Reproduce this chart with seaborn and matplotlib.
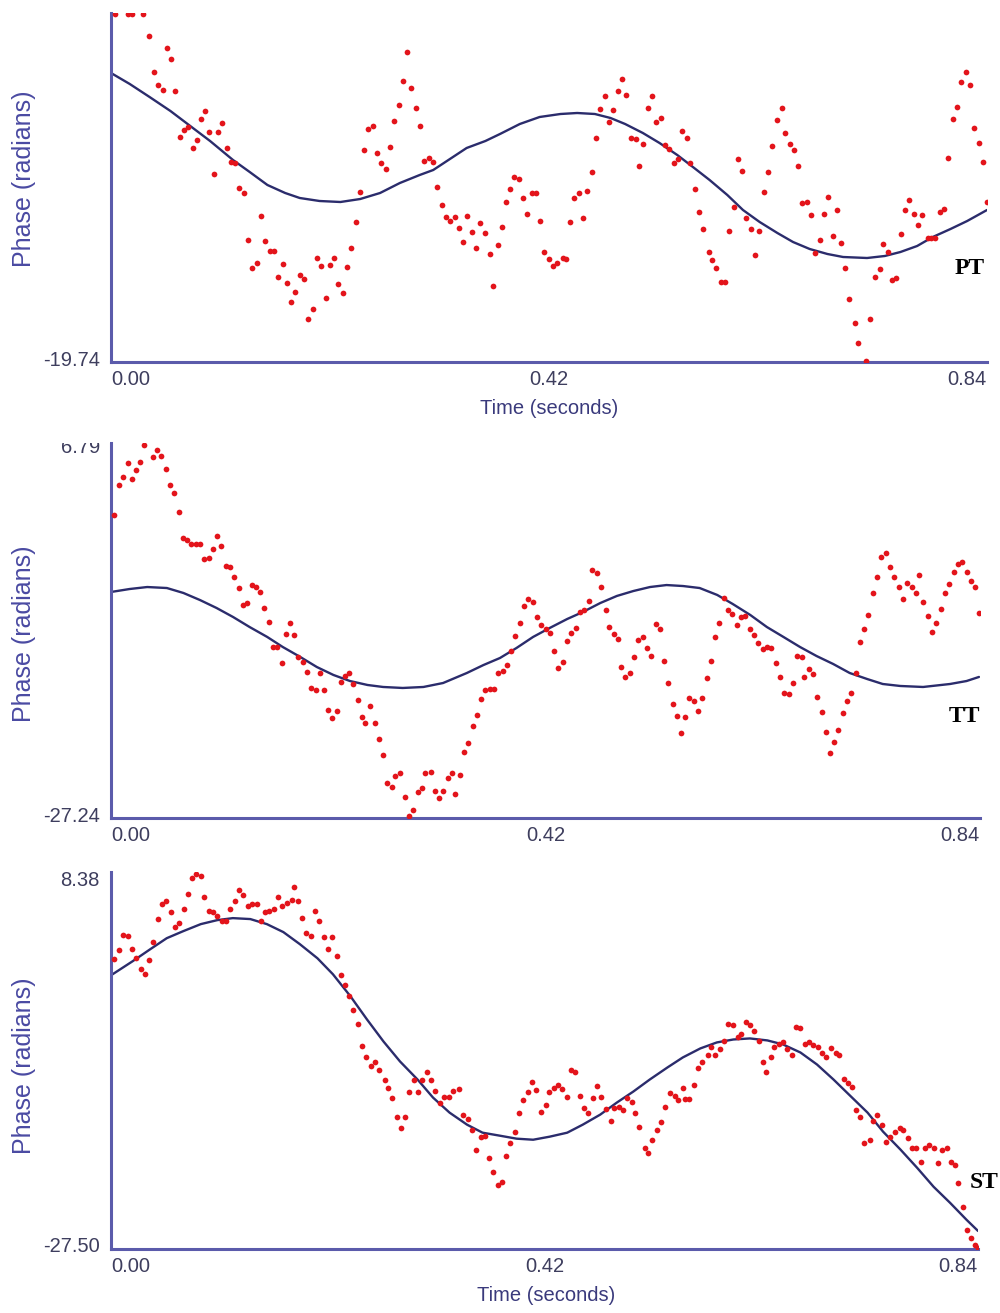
import matplotlib
matplotlib.use("Agg")
import matplotlib.pyplot as plt
import seaborn as sns
import pandas as pd
from matplotlib.transforms import ScaledTranslation
from matplotlib.patches import Rectangle

# ---------------- data ----------------
x_ticks = [0.0, 0.42, 0.84]
x_tick_labels = ["0.00", "0.42", "0.84"]

# Panel PT
pt_ylim = (-19.74, 11.67)
pt_t = [0.004,0.016,0.020,0.031,0.036,0.041,0.045,0.050,0.054,0.058,
        0.061,0.066,0.070,0.074,0.079,0.082,0.086,0.090,0.094,0.099,
        0.103,0.106,0.111,0.115,0.119,0.123,0.128,0.131,0.135,0.140,
        0.144,0.148,0.152,0.156,0.160,0.165,0.169,0.173,0.176,0.181,
        0.185,0.189,0.194,0.198,0.201,0.206,0.210,0.214,0.218,0.222,
        0.226,0.230,0.235,0.239,0.243,0.246,0.251,0.255,0.259,0.264,
        0.268,0.271,0.276,0.280,0.284,0.288,0.292,0.296,0.300,0.305,
        0.309,0.313,0.317,0.321,0.325,0.330,0.334,0.338,0.341,0.346,
        0.350,0.354,0.359,0.363,0.366,0.371,0.375,0.379,0.383,0.386,
        0.391,0.395,0.399,0.404,0.408,0.411,0.415,0.420,0.424,0.428,
        0.433,0.436,0.440,0.444,0.449,0.453,0.456,0.461,0.465,0.469,
        0.474,0.478,0.481,0.486,0.490,0.494,0.499,0.503,0.506,0.510,
        0.515,0.519,0.523,0.527,0.531,0.535,0.540,0.544,0.548,0.552,
        0.555,0.560,0.564,0.568,0.573,0.576,0.580,0.585,0.589,0.593,
        0.597,0.601,0.605,0.609,0.614,0.618,0.621,0.626,0.630,0.634,
        0.639,0.643,0.646,0.651,0.655,0.659,0.663,0.667,0.671,0.675,
        0.680,0.684,0.688,0.692,0.696,0.700,0.704,0.708,0.713,0.716,
        0.724,0.728,0.733,0.737,0.740,0.745,0.749,0.753,0.758,0.761,
        0.765,0.770,0.774,0.778,0.783,0.786,0.790,0.795,0.799,0.803,
        0.807,0.811,0.815,0.820,0.824,0.828,0.832,0.836,0.840]
pt_phase = [11.6,11.6,11.6,11.6,9.60,6.36,5.19,4.74,8.52,7.53,
            4.65,0.51,1.14,1.41,-0.48,0.24,2.13,2.85,0.96,-2.82,
            0.96,1.77,-0.48,-1.74,-1.83,-4.08,-4.53,-8.76,-11.28,-10.83,
            -6.60,-8.85,-9.75,-9.75,-12.09,-10.92,-12.63,-14.34,-13.44,-11.91,
            -12.27,-15.87,-14.97,-10.38,-11.10,-13.98,-11.01,-10.38,-12.72,-13.53,
            -11.19,-9.48,-7.14,-4.44,-0.66,1.23,1.50,-0.93,-1.83,-2.37,
            -0.39,1.95,3.39,5.55,8.16,4.92,3.12,1.50,-1.65,-1.38,
            -1.74,-3.99,-5.61,-6.69,-7.05,-6.69,-7.68,-8.94,-6.60,-8.04,
            -9.48,-7.23,-8.13,-10.02,-12.90,-9.21,-7.59,-5.34,-4.17,-3.09,
            -3.27,-4.98,-6.42,-4.53,-4.53,-7.05,-9.84,-10.47,-11.10,-10.83,
            -10.38,-10.47,-7.14,-4.98,-4.53,-6.78,-4.35,-2.64,0.42,3.03,
            4.20,1.86,2.94,4.65,5.73,4.29,0.42,0.33,-2.10,-0.12,
            3.12,4.20,1.86,2.22,-0.21,-0.57,-1.83,-1.47,1.05,0.42,
            -1.83,-4.17,-6.24,-7.77,-9.84,-10.56,-11.28,-12.54,-12.54,-7.95,
            -5.79,-1.47,-2.55,-6.78,-7.77,-10.11,-7.95,-4.44,-2.64,-0.30,
            2.04,3.12,0.87,-0.12,-0.66,-2.10,-5.43,-5.34,-6.51,-9.93,
            -8.76,-6.42,-4.89,-8.40,-6.06,-9.03,-11.28,-14.07,-16.23,-18.03,
            -19.65,-15.87,-12.09,-11.37,-9.12,-9.84,-12.36,-12.18,-8.22,-6.06,
            -5.16,-6.42,-7.41,-6.51,-8.58,-8.58,-8.58,-6.24,-5.97,-1.38,
            2.13,3.21,5.46,6.36,5.19,1.32,-0.03,-1.74,-5.34]
pt_fit_t = [0.000,0.018,0.037,0.057,0.076,0.095,0.117,0.133,0.150,0.167,
            0.181,0.200,0.220,0.239,0.258,0.277,0.296,0.309,0.325,0.341,
            0.359,0.373,0.392,0.411,0.431,0.447,0.464,0.479,0.493,0.510,
            0.526,0.543,0.558,0.574,0.591,0.606,0.622,0.639,0.654,0.670,
            0.687,0.702,0.725,0.742,0.757,0.773,0.788,0.805,0.821,0.840]
pt_fit = [6.27,5.28,4.11,2.85,1.50,0.15,-1.56,-2.64,-3.81,-4.53,
          -4.98,-5.25,-5.34,-5.07,-4.53,-3.63,-2.91,-2.46,-1.47,-0.48,
          0.15,0.78,1.68,2.31,2.58,2.67,2.58,2.22,1.68,0.87,
          -0.03,-1.11,-2.19,-3.36,-4.71,-6.06,-7.14,-8.13,-8.94,-9.57,
          -10.02,-10.29,-10.38,-10.20,-9.84,-9.30,-8.49,-7.77,-7.05,-6.06]

# Panel TT
tt_ylim = (-27.24, 6.79)
tt_t = [0.003,0.008,0.012,0.016,0.020,0.024,0.028,0.032,0.041,0.044,
        0.048,0.053,0.057,0.061,0.066,0.070,0.073,0.077,0.082,0.086,
        0.090,0.095,0.099,0.102,0.106,0.111,0.115,0.119,0.124,0.128,
        0.131,0.136,0.140,0.144,0.148,0.153,0.157,0.160,0.165,0.169,
        0.173,0.177,0.181,0.186,0.189,0.193,0.198,0.202,0.206,0.210,
        0.214,0.218,0.222,0.226,0.230,0.234,0.239,0.243,0.246,0.250,
        0.255,0.259,0.263,0.267,0.272,0.275,0.279,0.284,0.288,0.292,
        0.297,0.301,0.304,0.309,0.313,0.317,0.321,0.326,0.330,0.333,
        0.337,0.341,0.345,0.350,0.354,0.358,0.362,0.366,0.370,0.374,
        0.379,0.383,0.387,0.391,0.395,0.399,0.403,0.408,0.412,0.416,
        0.420,0.424,0.428,0.432,0.437,0.441,0.445,0.449,0.453,0.457,
        0.462,0.465,0.470,0.474,0.478,0.481,0.486,0.490,0.493,0.497,
        0.502,0.506,0.509,0.514,0.518,0.522,0.527,0.531,0.535,0.538,
        0.543,0.547,0.551,0.555,0.559,0.564,0.567,0.571,0.576,0.580,
        0.584,0.588,0.593,0.596,0.600,0.605,0.609,0.613,0.618,0.622,
        0.625,0.630,0.634,0.638,0.643,0.647,0.651,0.655,0.659,0.663,
        0.668,0.670,0.675,0.679,0.682,0.687,0.691,0.695,0.699,0.703,
        0.708,0.711,0.715,0.720,0.724,0.728,0.732,0.737,0.740,0.744,
        0.749,0.753,0.757,0.762,0.766,0.769,0.774,0.778,0.781,0.785,
        0.790,0.794,0.797,0.802,0.806,0.810,0.815,0.819,0.823,0.827,
        0.831,0.835,0.839]
tt_phase = [0.26,2.98,3.71,4.98,3.52,4.34,5.07,6.61,5.52,6.16,
            5.61,4.43,2.98,2.25,0.53,-1.83,-2.01,-2.37,-2.37,-2.37,
            -3.74,-3.64,-2.83,-1.65,-2.56,-4.37,-4.46,-5.37,-6.37,-7.91,
            -7.73,-6.10,-6.28,-6.73,-8.18,-9.45,-11.72,-11.72,-13.17,-10.54,
            -9.54,-10.63,-12.63,-13.08,-13.99,-15.44,-15.62,-14.08,-15.62,-17.44,
            -18.16,-17.53,-14.90,-14.35,-14.08,-15.08,-16.53,-18.07,-18.62,-17.08,
            -18.62,-20.07,-21.52,-24.06,-24.43,-23.43,-23.16,-25.33,-27.10,-26.51,
            -24.88,-24.52,-23.16,-23.07,-24.79,-25.42,-24.79,-23.61,-23.16,-25.06,
            -23.34,-21.25,-20.43,-18.89,-17.89,-16.44,-15.62,-15.53,-15.53,-14.08,
            -13.90,-13.36,-12.08,-10.72,-9.54,-8.00,-7.37,-7.64,-9.00,-9.73,
            -10.09,-10.45,-12.08,-13.63,-13.08,-11.18,-10.45,-10.00,-8.55,-8.36,
            -7.55,-4.73,-5.01,-6.28,-8.36,-9.91,-10.54,-11.00,-13.54,-14.44,
            -14.08,-12.63,-11.09,-10.81,-11.81,-12.54,-9.63,-10.09,-12.99,-14.99,
            -16.89,-17.98,-19.53,-18.07,-16.35,-16.62,-17.53,-16.35,-14.53,-12.99,
            -10.81,-9.54,-7.27,-8.36,-8.73,-9.73,-9.00,-8.91,-10.09,-10.63,
            -11.36,-11.90,-11.72,-11.81,-13.17,-14.44,-15.90,-15.99,-14.99,-12.54,
            -12.63,-14.44,-13.72,-14.17,-16.26,-17.62,-19.44,-21.34,-20.34,-19.25,
            -17.71,-16.62,-15.90,-14.08,-11.27,-10.09,-8.82,-6.82,-5.37,-3.55,
            -3.19,-4.46,-5.37,-6.28,-7.37,-5.91,-6.28,-6.82,-5.19,-7.64,
            -8.91,-10.36,-9.54,-8.27,-6.82,-6.00,-4.92,-4.19,-4.01,-4.92,
            -5.73,-6.28,-8.64]
tt_fit_t = [0.000,0.018,0.035,0.054,0.070,0.086,0.102,0.118,0.134,0.151,
            0.166,0.183,0.199,0.215,0.231,0.248,0.263,0.282,0.302,0.321,
            0.344,0.360,0.376,0.392,0.408,0.424,0.441,0.456,0.473,0.489,
            0.505,0.521,0.537,0.553,0.569,0.586,0.601,0.618,0.634,0.650,
            0.666,0.682,0.698,0.714,0.731,0.746,0.763,0.785,0.811,0.827,0.839]
tt_fit = [-6.73,-6.46,-6.28,-6.37,-6.82,-7.46,-8.18,-9.00,-9.91,-10.81,
          -11.72,-12.63,-13.54,-14.26,-14.81,-15.17,-15.35,-15.44,-15.35,-14.99,
          -14.08,-13.36,-12.72,-11.81,-10.81,-10.00,-9.18,-8.55,-7.73,-7.09,
          -6.64,-6.28,-6.10,-6.19,-6.37,-7.00,-7.82,-8.82,-9.91,-10.81,
          -11.72,-12.54,-13.26,-14.08,-14.63,-15.08,-15.26,-15.35,-15.08,-14.81,-14.44]

# Panel ST
st_ylim = (-27.50, 8.38)
st_t = [0.003,0.008,0.012,0.016,0.020,0.024,0.029,0.033,0.037,0.041,
        0.046,0.049,0.053,0.058,0.062,0.066,0.071,0.075,0.078,0.082,
        0.087,0.090,0.095,0.099,0.103,0.108,0.111,0.115,0.120,0.124,
        0.128,0.133,0.137,0.141,0.145,0.149,0.153,0.158,0.162,0.166,
        0.171,0.175,0.177,0.181,0.185,0.189,0.194,0.198,0.202,0.206,
        0.210,0.214,0.219,0.223,0.227,0.231,0.234,0.239,0.243,0.247,
        0.252,0.256,0.260,0.265,0.268,0.272,0.277,0.281,0.285,0.289,
        0.294,0.297,0.301,0.306,0.310,0.314,0.319,0.323,0.327,0.331,
        0.337,0.341,0.346,0.350,0.354,0.358,0.362,0.366,0.370,0.375,
        0.379,0.383,0.387,0.391,0.395,0.399,0.404,0.408,0.412,0.417,
        0.421,0.424,0.429,0.433,0.437,0.442,0.446,0.450,0.454,0.458,
        0.462,0.467,0.471,0.475,0.480,0.484,0.487,0.492,0.496,0.500,
        0.505,0.508,0.512,0.517,0.520,0.524,0.529,0.533,0.537,0.542,
        0.546,0.549,0.554,0.556,0.560,0.565,0.569,0.573,0.578,0.581,
        0.585,0.590,0.594,0.598,0.603,0.607,0.610,0.615,0.619,0.623,
        0.628,0.632,0.635,0.639,0.642,0.647,0.651,0.655,0.660,0.664,
        0.668,0.672,0.676,0.680,0.685,0.689,0.693,0.698,0.702,0.705,
        0.710,0.714,0.718,0.722,0.726,0.730,0.735,0.738,0.742,0.747,
        0.751,0.755,0.760,0.764,0.767,0.772,0.776,0.780,0.785,0.789,
        0.793,0.797,0.801,0.805,0.810,0.814,0.818,0.821,0.825,0.829,
        0.833,0.837,0.840]
st_phase = [0.08,0.94,2.37,2.27,1.03,0.17,-0.87,-1.35,-0.02,1.70,
            3.90,5.33,5.61,4.56,3.13,3.51,4.85,6.28,7.81,8.19,
            8.00,6.00,4.66,4.56,4.18,3.71,3.71,4.85,5.61,6.66,
            6.19,5.14,5.33,5.33,3.71,4.56,4.66,4.85,6.00,5.14,
            5.42,5.71,6.95,5.61,3.99,2.56,2.27,4.66,3.71,2.18,
            1.03,2.18,0.37,-1.45,-2.40,-3.45,-4.79,-6.12,-8.22,-9.18,
            -10.13,-9.75,-10.42,-11.37,-12.14,-13.09,-14.90,-15.95,-14.90,-12.52,
            -11.37,-12.52,-11.37,-10.61,-11.37,-12.42,-13.57,-12.99,-12.99,-12.42,
            -12.23,-14.71,-15.09,-16.14,-18.05,-16.81,-16.72,-18.82,-20.15,-21.39,
            -21.11,-18.63,-17.38,-16.33,-14.52,-13.28,-12.52,-11.56,-12.33,-14.43,
            -13.76,-12.52,-12.14,-11.85,-12.23,-12.99,-10.51,-10.70,-12.90,-14.04,
            -14.52,-13.09,-11.94,-12.99,-14.14,-15.28,-14.04,-13.95,-14.24,-13.09,
            -13.47,-14.52,-15.86,-17.86,-18.34,-17.10,-16.14,-15.38,-13.95,-12.61,
            -12.90,-13.28,-12.14,-13.19,-13.19,-11.85,-10.23,-9.75,-8.99,-8.32,
            -9.08,-8.51,-7.75,-6.12,-6.22,-7.36,-7.08,-5.93,-6.22,-6.79,
            -7.75,-9.75,-10.61,-9.27,-8.32,-8.03,-7.84,-8.51,-8.99,-6.41,
            -6.50,-8.03,-7.84,-8.13,-8.32,-8.80,-9.27,-8.41,-8.80,-9.08,
            -11.28,-11.66,-12.04,-14.24,-14.90,-17.38,-17.10,-15.28,-14.71,-15.67,
            -17.29,-16.81,-16.33,-15.95,-16.14,-16.91,-17.86,-17.86,-19.20,-17.86,
            -17.58,-17.86,-19.29,-18.05,-17.86,-19.20,-19.48,-21.20,-23.49,-25.69,
            -26.45,-27.12,-27.40]
st_fit_t = [0.000,0.021,0.038,0.054,0.070,0.087,0.103,0.118,0.135,0.151,
            0.167,0.183,0.200,0.215,0.232,0.248,0.264,0.280,0.297,0.312,
            0.328,0.345,0.360,0.377,0.393,0.409,0.425,0.442,0.457,0.474,
            0.490,0.506,0.522,0.539,0.554,0.571,0.587,0.603,0.619,0.636,
            0.651,0.668,0.684,0.700,0.716,0.733,0.748,0.765,0.781,0.797,
            0.813,0.829,0.840]
st_fit = [-1.45,-0.11,1.03,2.08,2.75,3.42,3.80,3.99,3.90,3.42,
          2.66,1.51,0.17,-1.35,-3.45,-5.65,-7.75,-9.65,-11.37,-13.09,
          -14.52,-15.67,-16.43,-16.72,-17.00,-17.10,-16.81,-16.43,-15.67,-14.71,
          -13.57,-12.52,-11.37,-10.23,-9.27,-8.41,-7.84,-7.56,-7.46,-7.65,
          -8.03,-8.80,-9.94,-11.37,-12.90,-14.52,-16.33,-18.05,-19.77,-21.58,
          -23.11,-24.73,-25.78]

panel_names = ["PT", "TT", "ST"]

# ---------------- style ----------------
sns.set_theme(style="white")
plt.rcParams["font.family"] = ["Liberation Sans", "DejaVu Sans"]

AXIS_C = "#5b5bab"
TICK_C = "#3e3e5e"
YLAB_C = "#4a4aa2"
XLAB_C = "#3a3a7c"
DOT_C = "#e3141b"
FIT_C = "#2b2c6c"

W, H = 1000, 1313
fig = plt.figure(figsize=(W / 100, H / 100), dpi=100)
fig.patch.set_facecolor("white")

def px_axes(left, top, right, bottom):
    return fig.add_axes([left / W, 1 - bottom / H, (right - left) / W, (bottom - top) / H])

ax1 = px_axes(111, 13, 987, 362)
ax2 = px_axes(111, 443, 980, 818)
ax3 = px_axes(111, 872, 978, 1249)

panels = [
    (ax1, pt_t, pt_phase, pt_fit_t, pt_fit, pt_ylim, ["", "-19.74"], True, -0.06),
    (ax2, tt_t, tt_phase, tt_fit_t, tt_fit, tt_ylim, ["6.79", "-27.24"], False, -0.02),
    (ax3, st_t, st_phase, st_fit_t, st_fit, st_ylim, ["8.38", "-27.50"], True, -0.06),
]

for ax, t, ph, ft, fv, ylim, ylabels, show_xlabel, top_shift in panels:
    dots = pd.DataFrame({"Time": t, "Phase": ph})
    fit = pd.DataFrame({"Time": ft, "Phase": fv})
    sns.lineplot(data=fit, x="Time", y="Phase", ax=ax, color=FIT_C, linewidth=1.7,
                 sort=True, zorder=2)
    sns.scatterplot(data=dots, x="Time", y="Phase", ax=ax, color=DOT_C, s=17,
                    linewidth=0, zorder=3)
    ax.set_xlim(0, 0.84)
    ax.set_ylim(*ylim)
    ax.set_facecolor("white")
    for side in ["top", "right"]:
        ax.spines[side].set_visible(False)
    for side in ["left", "bottom"]:
        ax.spines[side].set_color(AXIS_C)
        ax.spines[side].set_linewidth(2.2)

    ax.set_xticks(x_ticks)
    ax.set_xticklabels(x_tick_labels, fontsize=14.5, color=TICK_C)
    xl = ax.get_xticklabels()
    xl[0].set_ha("left")
    xl[-1].set_ha("right")

    ax.set_yticks([ylim[1], ylim[0]])
    ax.set_yticklabels(ylabels, fontsize=14.5, color=TICK_C)
    ax.tick_params(axis="both", length=0)
    ax.tick_params(axis="x", pad=6)
    ax.tick_params(axis="y", pad=8)
    yl = ax.get_yticklabels()
    yl[0].set_transform(yl[0].get_transform() + ScaledTranslation(0, top_shift, fig.dpi_scale_trans))
    yl[1].set_transform(yl[1].get_transform() + ScaledTranslation(0, 0.04, fig.dpi_scale_trans))

    ax.set_ylabel("Phase (radians)", fontsize=18, color=YLAB_C)
    if show_xlabel:
        ax.set_xlabel("Time (seconds)", fontsize=14.5, color=XLAB_C)
    else:
        ax.set_xlabel("")
    ax.grid(False)

# label placement (axes fractions from pixel measurements)
ax1.yaxis.set_label_coords(-(111 - 36) / 876, (362 - 179) / 349)
ax2.yaxis.set_label_coords(-(111 - 36) / 869, (818 - 634) / 375)
ax3.yaxis.set_label_coords(-(111 - 36) / 867, (1249 - 1066) / 377)
ax1.xaxis.set_label_coords((549 - 111) / 876, -37 / 349)
ax3.xaxis.set_label_coords((546 - 111) / 867, -37 / 377)

# cropped top of the middle screenshot (hides upper half of "6.79")
fig.add_artist(Rectangle((0, 1 - 443 / H), 0.11, 17 / H, transform=fig.transFigure,
                         facecolor="white", edgecolor="none", zorder=10))

# panel tags
tag_kw = dict(fontsize=17, fontweight="bold", color="black",
              family=["Liberation Serif", "DejaVu Serif"], va="center")
fig.text(970 / W, 1 - 269 / H, panel_names[0], ha="center", **tag_kw)
fig.text(964 / W, 1 - 716 / H, panel_names[1], ha="center", **tag_kw)
fig.text(970 / W, 1 - 1183 / H, panel_names[2], ha="left", **tag_kw)

fig.savefig("out.png", dpi=100, facecolor="white")
